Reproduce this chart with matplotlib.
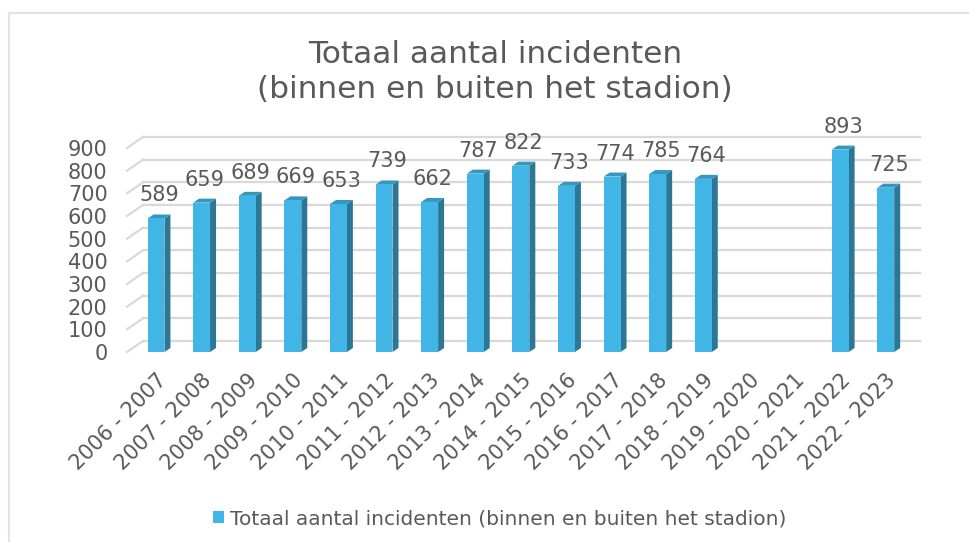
import numpy as np
import matplotlib
matplotlib.use("Agg")
import matplotlib.pyplot as plt
from matplotlib.patches import Polygon, Patch
from matplotlib.lines import Line2D

# data
seizoenen = ["2006 - 2007", "2007 - 2008", "2008 - 2009", "2009 - 2010", "2010 - 2011",
             "2011 - 2012", "2012 - 2013", "2013 - 2014", "2014 - 2015", "2015 - 2016",
             "2016 - 2017", "2017 - 2018", "2018 - 2019", "2019 - 2020", "2020 - 2021",
             "2021 - 2022", "2022 - 2023"]
incidenten = [589, 659, 689, 669, 653, 739, 662, 787, 822, 733, 774, 785, 764,
              None, None, 893, 725]
y_ticks = [0, 100, 200, 300, 400, 500, 600, 700, 800, 900]

tekst = "#595959"
front = "#41B5E5"
side = "#2B7795"
top = "#3497C0"
grid = "#D9D9D9"

W, H = 970, 542
fig = plt.figure(figsize=(W / 100, H / 100), dpi=100)
plt.rcParams["font.family"] = ["DejaVu Sans"]

# outer frame (only top and left edge visible)
fig.lines.append(Line2D([9 / W, 9 / W], [0, 1 - 13 / H], transform=fig.transFigure,
                        color="#E3E3E3", lw=1.5))
fig.lines.append(Line2D([9 / W, 1], [1 - 13 / H, 1 - 13 / H], transform=fig.transFigure,
                        color="#E3E3E3", lw=1.5))

ax_l, ax_r, ax_b, ax_t = 127, 904, 352, 148
ax = fig.add_axes([ax_l / W, 1 - ax_b / H, (ax_r - ax_l) / W, (ax_b - ax_t) / H])
xmin, xmax = -0.636, 16.4
ymin, ymax = 0, 900
ax.set_xlim(xmin, xmax)
ax.set_ylim(ymin, ymax)

# data units per pixel
sx = (xmax - xmin) / (ax_r - ax_l)
sy = (ymax - ymin) / (ax_b - ax_t)

# back wall gridlines + floor slant
wdx, wdy = 16 * sx, 11 * sy
for v in y_ticks:
    ax.plot([xmin + wdx, xmax + wdx], [v + wdy, v + wdy], color=grid, lw=1.6,
            clip_on=False, zorder=1)
    ax.plot([xmin, xmin + wdx], [v, v + wdy], color=grid, lw=1.6, clip_on=False, zorder=1)

# 3d-ish bars
bw = 0.37
bdx, bdy = 6 * sx, 4 * sy
x = np.arange(len(seizoenen))
for xi, v in zip(x, incidenten):
    if v is None:
        continue
    l, r = xi - bw / 2, xi + bw / 2
    ax.add_patch(Polygon([(r, 0), (r + bdx, bdy), (r + bdx, v + bdy), (r, v)],
                         closed=True, facecolor=side, edgecolor="none", zorder=3, clip_on=False))
    ax.add_patch(Polygon([(l, v), (l + bdx, v + bdy), (r + bdx, v + bdy), (r, v)],
                         closed=True, facecolor=top, edgecolor="none", zorder=3, clip_on=False))
    ax.bar(xi, v, width=bw, color=front, zorder=4, clip_on=False)
    ax.annotate(str(v), (xi + bdx / 2, v + bdy), xytext=(0, 9), textcoords="offset pixels",
                ha="center", va="bottom", fontsize=15, color=tekst, annotation_clip=False)

for s in ax.spines.values():
    s.set_visible(False)
ax.set_yticks(y_ticks)
ax.set_yticklabels([str(t) for t in y_ticks], fontsize=15, color=tekst)
ax.tick_params(axis="y", length=0, pad=14)
ax.set_xticks(x)
ax.set_xticklabels(seizoenen, rotation=45, ha="right", va="top", rotation_mode="anchor",
                   fontsize=15, color=tekst)
ax.tick_params(axis="x", length=0, pad=13)
ax.patch.set_alpha(0)

fig.text(495 / W, 1 - 72 / H, "Totaal aantal incidenten\n(binnen en buiten het stadion)",
         ha="center", va="center", fontsize=22.5, color=tekst, linespacing=1.3)

fig.legend(handles=[Patch(facecolor=front, edgecolor="none")],
           labels=["Totaal aantal incidenten (binnen en buiten het stadion)"],
           loc="center", bbox_to_anchor=(500 / W, 1 - 519 / H), frameon=False,
           fontsize=14.5, handlelength=0.55, handleheight=0.55, handletextpad=0.3,
           labelcolor=tekst)

fig.savefig("out.png", dpi=100, facecolor="white")
